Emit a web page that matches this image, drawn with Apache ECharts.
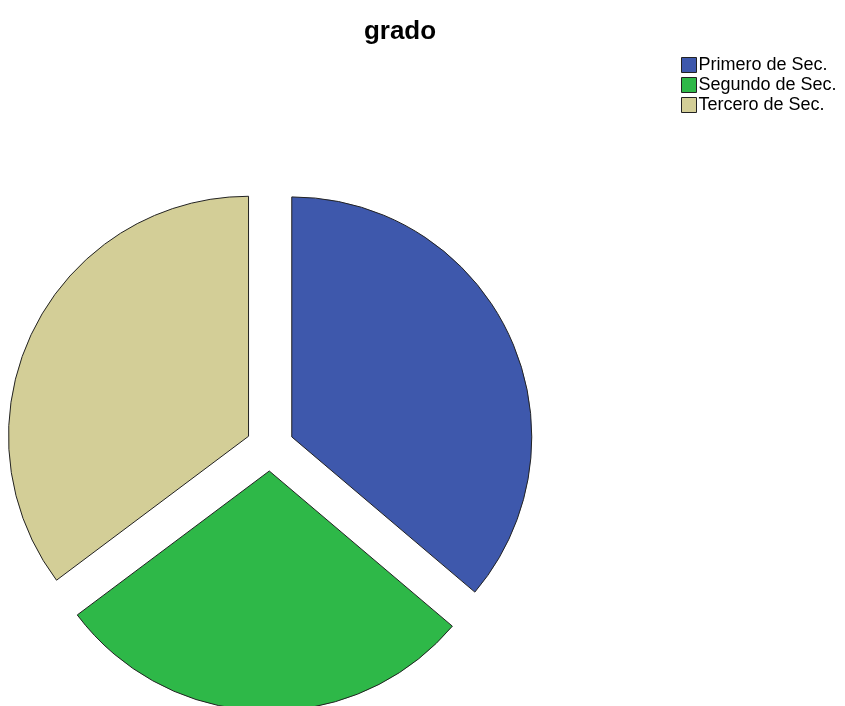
<!DOCTYPE html>
<html lang="es">
<head>
    <meta charset="UTF-8">
    <title>grado</title>
    <script src="https://cdn.jsdelivr.net/npm/echarts@6/dist/echarts.min.js"></script>
</head>
<body style="margin:0;background:#fff;">
    <div id="main" style="width:845px;height:706px;"></div>
</body>
<script>
    // datos del gráfico
    var categorias = ['Primero de Sec.', 'Segundo de Sec.', 'Tercero de Sec.'];
    var valores = [38, 30, 37];
    var colores = ['#3e58ac', '#2eb848', '#d3ce97'];

    var myChart = echarts.init(document.getElementById('main'));

    var datos = [];
    for (var i = 0; i < categorias.length; i++) {
        datos.push({
            name: categorias[i],
            value: valores[i],
            selected: true,
            itemStyle: {color: colores[i]}
        });
    }

    var option = {
        animation: false,
        title: {
            text: 'grado',
            left: 395,
            textAlign: 'center',
            top: 14,
            textStyle: {
                fontFamily: 'Liberation Sans, Arial, sans-serif',
                fontSize: 26,
                fontWeight: 'bold',
                color: '#000'
            }
        },
        legend: {
            orient: 'vertical',
            left: 676,
            top: 50,
            itemWidth: 15,
            itemHeight: 15,
            itemGap: 0,
            icon: 'rect',
            data: categorias,
            itemStyle: {borderColor: '#222', borderWidth: 1},
            textStyle: {
                fontFamily: 'Liberation Sans, Arial, sans-serif',
                fontSize: 18,
                lineHeight: 20,
                color: '#000',
                padding: [0, 0, 0, -3]
            }
        },
        series: [{
            type: 'pie',
            center: [270, 447],
            radius: 240,
            startAngle: 90,
            clockwise: true,
            selectedMode: 'multiple',
            selectedOffset: 24,
            label: {show: false},
            labelLine: {show: false},
            emphasis: {disabled: true},
            itemStyle: {borderColor: '#222', borderWidth: 1},
            data: datos
        }]
    };

    myChart.setOption(option);
</script>
</html>
